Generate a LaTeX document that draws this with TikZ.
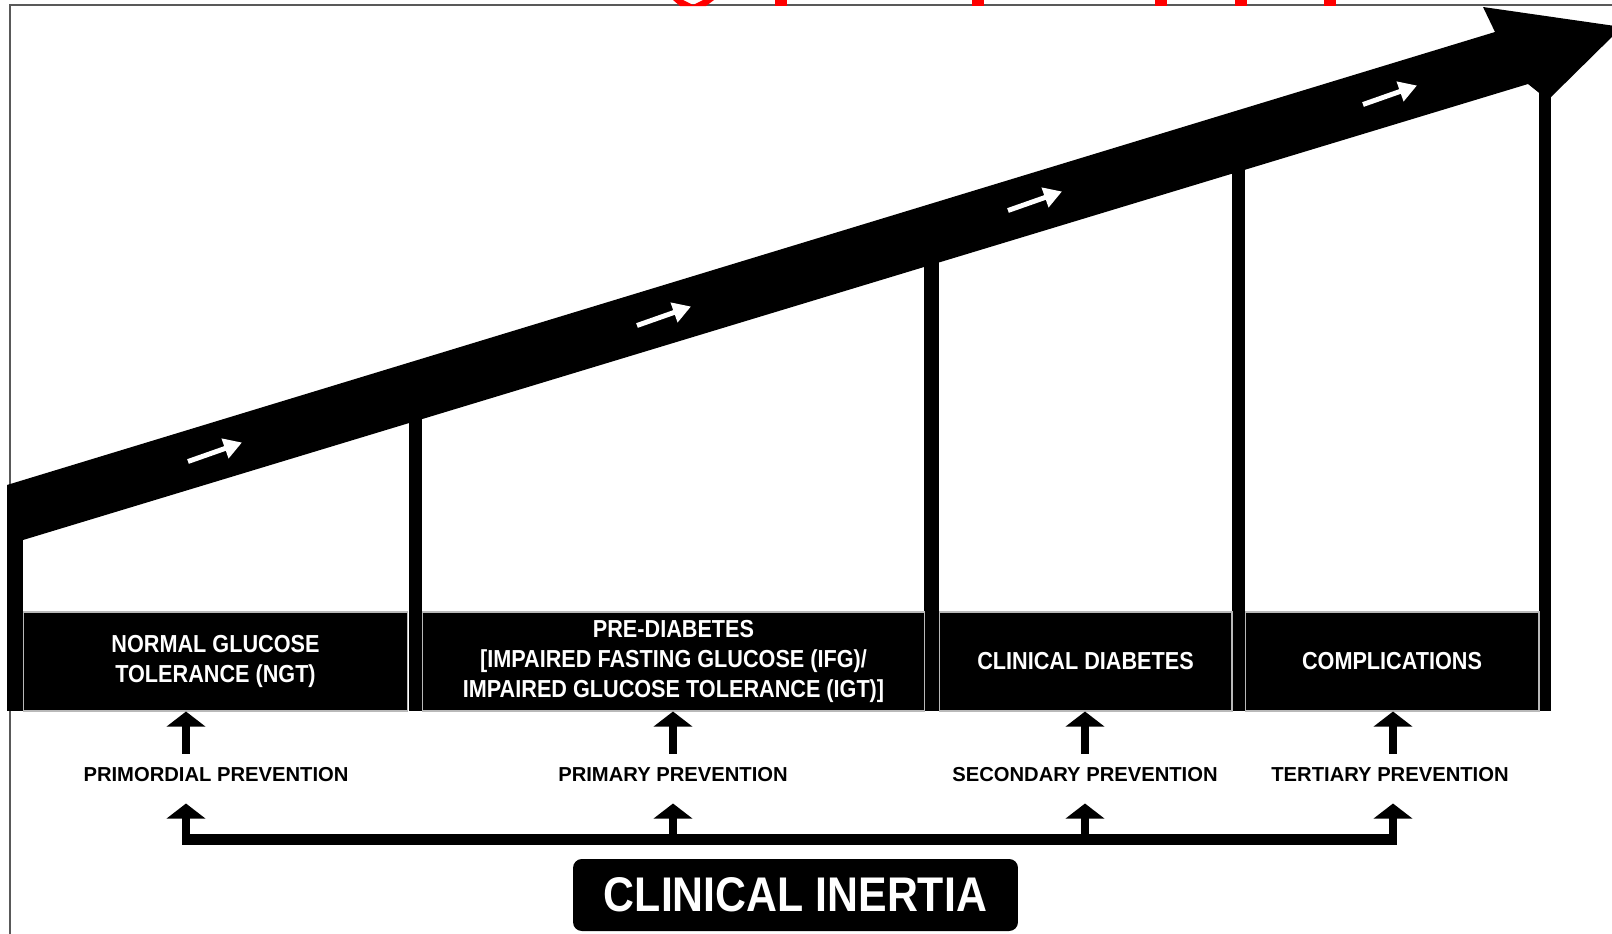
\documentclass[tikz,border=0pt]{standalone}
\usepackage{fontspec}
\setmainfont{Liberation Sans}
\newfontfamily\narrowfont[FakeStretch=0.88]{Liberation Sans}
\usetikzlibrary{arrows.meta,positioning,calc}

\begin{document}
\begin{tikzpicture}[
    x=0.02cm, y=-0.02cm,
    stage/.style={draw=gray!55, line width=0.6pt, fill=black, text=white, align=center, minimum height=1.98cm, inner sep=0pt, font=\narrowfont\bfseries\fontsize{14pt}{17pt}\selectfont},
    prevention/.style={inner sep=0pt, font=\bfseries\fontsize{11.5pt}{13pt}\selectfont},
    inertia/.style={fill=black, rounded corners=5pt, minimum width=8.9cm, minimum height=1.44cm, text=white, font=\narrowfont\bfseries\fontsize{27.7pt}{30pt}\selectfont},
    uparrow/.style={line width=4.5pt, -{Triangle[length=0.3cm, width=0.76cm]}},
    inertiabar/.style={line width=0.22cm},
    bandarrow/.style={white, line width=2.8pt, -{Triangle[length=0.36cm, width=0.4cm]}}
]
\clip (0,0) rectangle (1612,933);
\draw[gray!70!black, line width=1.1pt] (10,950) -- (10,5) -- (1630,5);
\fill[red] (673,0) -- (683,0) -- (693,5) -- (703,0) -- (714,0) -- (706,6) -- (680,6) -- cycle;
\foreach \rx in {781, 978, 1161, 1241, 1330}
  \fill[red] (\rx-6,0) rectangle (\rx+6,6);

% posts and progression band
\fill (7,530) rectangle (23,711);
\fill (409,410) rectangle (422,711);
\fill (924,255) rectangle (939,711);
\fill (1232,160) rectangle (1245,711);
\fill (1539,80) rectangle (1551,711);
\fill (7,485) -- (1495,32) -- (1483,7) -- (1622,27) -- (1548,100) -- (1528,84) -- (23,540) -- (7,545) -- cycle;
\foreach \cx/\cy in {215/452, 664/316, 1035/201, 1390/95}
  \draw[bandarrow] (\cx-27,\cy+9.5) -- (\cx+27,\cy-9.5);

% stages
\node[stage, minimum width=7.7cm] (ngt) at (215.5,661.5) {NORMAL GLUCOSE\\TOLERANCE (NGT)};
\node[stage, minimum width=10.06cm] (prediabetes) at (673.5,661.5) {PRE-DIABETES\\{[}IMPAIRED FASTING GLUCOSE (IFG)/\\IMPAIRED GLUCOSE TOLERANCE (IGT)]};
\node[stage, minimum width=5.86cm] (diabetes) at (1085.5,661.5) {CLINICAL DIABETES};
\node[stage, minimum width=5.88cm] (complications) at (1392,661.5) {COMPLICATIONS};

% prevention levels
\node[prevention] (primordial) at (216,775) {PRIMORDIAL PREVENTION};
\node[prevention] (primary) at (673,775) {PRIMARY PREVENTION};
\node[prevention] (secondary) at (1085,775) {SECONDARY PREVENTION};
\node[prevention] (tertiary) at (1390,775) {TERTIARY PREVENTION};

\coordinate (col1) at (186,0);
\coordinate (col2) at (673,0);
\coordinate (col3) at (1085,0);
\coordinate (col4) at (1393,0);
\coordinate (barL) at (182,839);
\coordinate (barR) at (1397,839);

\draw[uparrow, shorten <=0.28cm] (col1 |- primordial.north) -- (col1 |- ngt.south);
\draw[uparrow, shorten <=0.28cm] (col2 |- primary.north) -- (col2 |- prediabetes.south);
\draw[uparrow, shorten <=0.28cm] (col3 |- secondary.north) -- (col3 |- diabetes.south);
\draw[uparrow, shorten <=0.28cm] (col4 |- tertiary.north) -- (col4 |- complications.south);

\draw[inertiabar] (barL) -- (barR);
\draw[uparrow, shorten >=0.42cm] (col1 |- barL) -- (col1 |- primordial.south);
\draw[uparrow, shorten >=0.42cm] (col2 |- barL) -- (col2 |- primary.south);
\draw[uparrow, shorten >=0.42cm] (col3 |- barL) -- (col3 |- secondary.south);
\draw[uparrow, shorten >=0.42cm] (col4 |- barL) -- (col4 |- tertiary.south);

\node[inertia] (inertia) at (795.5,895) {CLINICAL INERTIA};
\end{tikzpicture}
\end{document}
